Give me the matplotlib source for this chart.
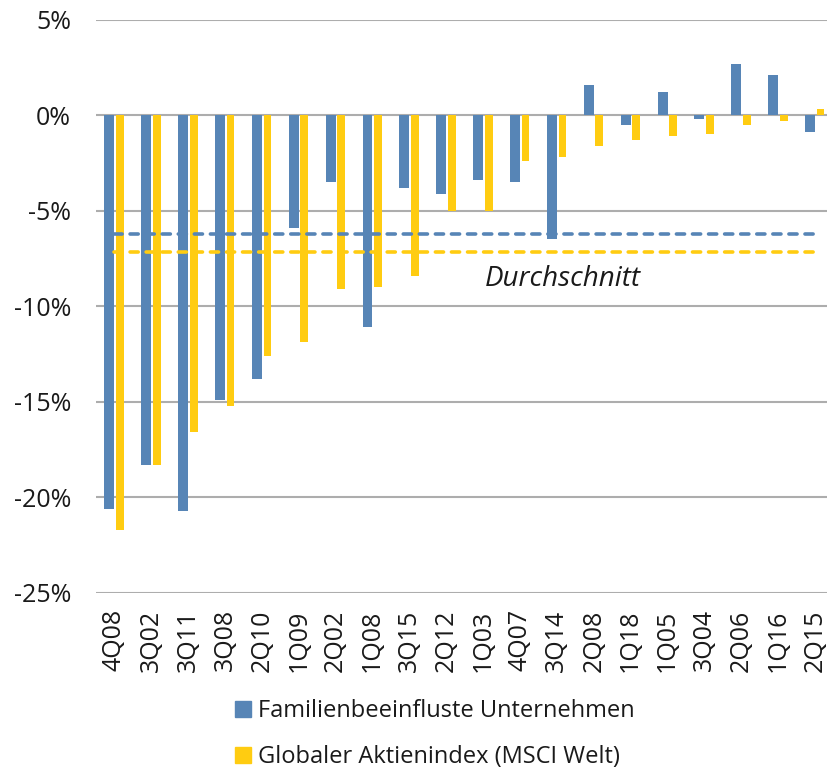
import numpy as np
import matplotlib
matplotlib.use("Agg")
import matplotlib.pyplot as plt
import matplotlib.ticker as mtick
from matplotlib.patches import Patch

plt.rcParams["font.family"] = ["Open Sans", "DejaVu Sans"]

# ── Daten (in %) ─────────────────────────────────────────────────────────────
quartale = ["4Q08", "3Q02", "3Q11", "3Q08", "2Q10", "1Q09", "2Q02", "1Q08",
            "3Q15", "2Q12", "1Q03", "4Q07", "3Q14", "2Q08", "1Q18", "1Q05",
            "3Q04", "2Q06", "1Q16", "2Q15"]
familien = [-20.6, -18.3, -20.7, -14.9, -13.8, -5.9, -3.5, -11.1, -3.8, -4.1,
            -3.4, -3.5, -6.5, 1.6, -0.5, 1.2, -0.2, 2.7, 2.1, -0.9]
msci = [-21.7, -18.3, -16.6, -15.2, -12.6, -11.9, -9.1, -9.0, -8.4, -5.0,
        -5.0, -2.4, -2.2, -1.6, -1.3, -1.1, -1.0, -0.5, -0.3, 0.35]
y_ticks = [5, 0, -5, -10, -15, -20, -25]

COR_FAM = "#5785B6"
COR_MSCI = "#FFCC11"
COR_GRID = "#ADADAD"
COR_TXT = "#1A1A1A"

W, H = 828, 769
fig = plt.figure(figsize=(W / 100, H / 100), dpi=100)
# Achse in Pixelkoordinaten platziert (rechts leicht abgeschnitten wie im Original)
ax = fig.add_axes([95.9 / W, (H - 592.7) / H, 737.6 / W, (592.7 - 19.7) / H])

x = np.arange(len(quartale))
ax.bar(x - 0.135, familien, width=0.27, color=COR_FAM, zorder=3)
ax.bar(x + 0.15, msci, width=0.21, color=COR_MSCI, zorder=3)

# Durchschnittslinien
for serie, cor in ((familien, COR_FAM), (msci, COR_MSCI)):
    m = np.mean(serie)
    ax.plot([x[0], x[-1]], [m, m], color=cor, lw=2.6, dashes=(2.25, 2.2),
            dash_capstyle="round", zorder=4)

ax.text(10.05, -8.6, "Durchschnitt", style="italic", fontsize=20,
        color=COR_TXT, ha="left", va="center")

ax.set_xlim(-0.5, len(quartale) - 0.5)
ax.set_ylim(-25, 5)
ax.set_yticks(y_ticks)
ax.yaxis.set_major_formatter(mtick.FuncFormatter(lambda v, _: f"{v:.0f}%"))
ax.set_xticks(x)
ax.set_xticklabels(quartale, rotation=90)
ax.grid(axis="y", color=COR_GRID, lw=1.5, zorder=0)
ax.set_axisbelow(True)
for s in ax.spines.values():
    s.set_visible(False)
ax.tick_params(axis="y", length=0, pad=18, labelsize=18, colors=COR_TXT)
ax.tick_params(axis="x", length=0, pad=12, labelsize=18, colors=COR_TXT)

handles = [Patch(color=COR_FAM, label="Familienbeeinfluste Unternehmen"),
           Patch(color=COR_MSCI, label="Globaler Aktienindex (MSCI Welt)")]
fig.legend(handles=handles, loc="upper left",
           bbox_to_anchor=(235 / W, 1 - 699 / H), frameon=False,
           fontsize=17, handlelength=0.68, handleheight=0.68,
           handletextpad=0.3, labelspacing=0.95, borderpad=0,
           borderaxespad=0, labelcolor=COR_TXT)

fig.savefig("out.png", dpi=100, facecolor="white")
